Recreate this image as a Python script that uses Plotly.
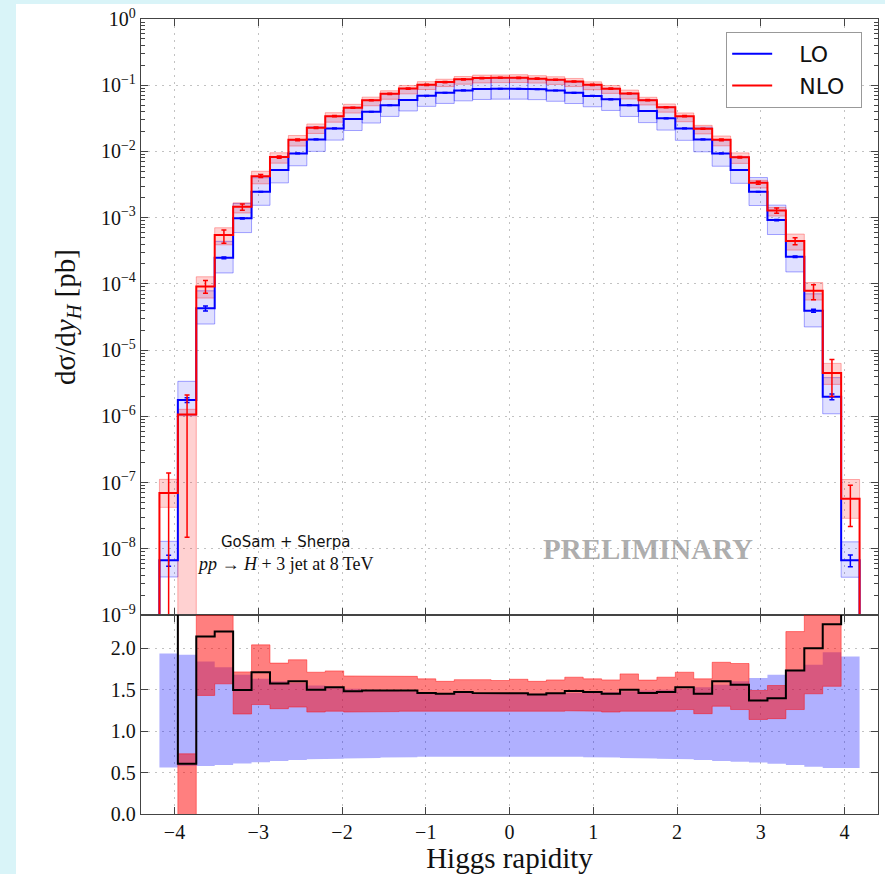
import numpy as np
import plotly.graph_objects as go

# ---------------- data ----------------
BIN_EDGES = [-4.18, -3.96, -3.74, -3.52, -3.30, -3.08, -2.86, -2.64, -2.42, -2.20,
             -1.98, -1.76, -1.54, -1.32, -1.10, -0.88, -0.66, -0.44, -0.22, 0.00,
             0.22, 0.44, 0.66, 0.88, 1.10, 1.32, 1.54, 1.76, 1.98, 2.20,
             2.42, 2.64, 2.86, 3.08, 3.30, 3.52, 3.74, 3.96, 4.18]

# LO central values [pb]
LO_XS = [6.7e-9, 1.76e-6, 4.27e-5, 2.48e-4, 9.76e-4, 2.46e-3, 5.24e-3, 9.35e-3, 1.52e-2, 2.23e-2,
         3.09e-2, 3.98e-2, 4.97e-2, 5.97e-2, 6.95e-2, 7.70e-2, 8.36e-2, 8.77e-2, 8.87e-2, 8.87e-2,
         8.72e-2, 8.30e-2, 7.67e-2, 6.90e-2, 6.12e-2, 5.00e-2, 4.07e-2, 3.16e-2, 2.23e-2, 1.52e-2,
         9.35e-3, 5.24e-3, 2.46e-3, 9.20e-4, 2.57e-4, 3.93e-5, 1.97e-6, 6.7e-9]

# NLO / LO (black line of the ratio panel)
NLO_OVER_LO = [10.4, 0.605, 2.14, 2.20, 1.496, 1.71, 1.573, 1.60, 1.50, 1.53,
               1.48, 1.49, 1.49, 1.49, 1.46, 1.45, 1.47, 1.46, 1.46, 1.456,
               1.44, 1.456, 1.484, 1.47, 1.45, 1.50, 1.46, 1.47, 1.53, 1.45,
               1.60, 1.56, 1.37, 1.395, 1.73, 2.00, 2.29, 8.5]

# LO scale band relative to LO central
LO_BAND_LO = [0.56, 0.58, 0.58, 0.59, 0.61, 0.625, 0.64, 0.65, 0.66, 0.665,
              0.67, 0.675, 0.68, 0.685, 0.69, 0.69, 0.695, 0.695, 0.695, 0.695,
              0.695, 0.69, 0.69, 0.685, 0.68, 0.675, 0.67, 0.665, 0.66, 0.65,
              0.64, 0.63, 0.62, 0.605, 0.59, 0.57, 0.555, 0.555]
LO_BAND_HI = [1.935, 1.92, 1.84, 1.77, 1.68, 1.63, 1.60, 1.58, 1.55, 1.53,
              1.51, 1.50, 1.49, 1.48, 1.47, 1.46, 1.46, 1.45, 1.45, 1.45,
              1.45, 1.45, 1.46, 1.46, 1.47, 1.48, 1.49, 1.50, 1.51, 1.53,
              1.56, 1.60, 1.64, 1.68, 1.74, 1.80, 1.95, 1.90]

# NLO scale band relative to LO central
NLO_BAND_LO = [6.3, -0.34, 1.43, 1.57, 1.206, 1.32, 1.27, 1.29, 1.23, 1.24,
               1.23, 1.23, 1.235, 1.24, 1.24, 1.24, 1.24, 1.235, 1.235, 1.24,
               1.235, 1.24, 1.245, 1.24, 1.23, 1.24, 1.235, 1.24, 1.26, 1.21,
               1.30, 1.26, 1.14, 1.15, 1.26, 1.45, 1.54, 4.3]
NLO_BAND_HI = [16.7, 0.726, 3.0, 2.84, 1.714, 2.04, 1.82, 1.86, 1.71, 1.726,
               1.665, 1.66, 1.66, 1.66, 1.63, 1.60, 1.62, 1.62, 1.61, 1.625,
               1.60, 1.617, 1.65, 1.63, 1.617, 1.69, 1.615, 1.65, 1.71, 1.63,
               1.83, 1.815, 1.49, 1.55, 2.20, 2.66, 3.2, 16.6]

# statistical errors (relative)
LO_ERR = [0.19, 0.08, 0.09, 0.03, 0.02, 0.01, 0.01, 0.01, 0.01, 0.01,
          0.01, 0.01, 0.01, 0.01, 0.01, 0.01, 0.01, 0.01, 0.01, 0.01,
          0.01, 0.01, 0.01, 0.01, 0.01, 0.01, 0.01, 0.01, 0.01, 0.01,
          0.01, 0.01, 0.01, 0.02, 0.03, 0.05, 0.10, 0.20]
NLO_ERR_UP = [1.0, 0.97, 0.23, 0.19, 0.10, 0.07, 0.04, 0.03, 0.025, 0.02,
              0.02, 0.02, 0.02, 0.02, 0.02, 0.02, 0.02, 0.02, 0.02, 0.02,
              0.02, 0.02, 0.02, 0.02, 0.02, 0.02, 0.02, 0.02, 0.02, 0.02,
              0.03, 0.03, 0.05, 0.09, 0.12, 0.23, 0.60, 0.60]
NLO_ERR_DN = [0.999, 0.986, 0.21, 0.25, 0.11, 0.035, 0.04, 0.03, 0.025, 0.02,
              0.02, 0.02, 0.02, 0.02, 0.02, 0.02, 0.02, 0.02, 0.02, 0.02,
              0.02, 0.02, 0.02, 0.02, 0.02, 0.02, 0.02, 0.02, 0.02, 0.02,
              0.03, 0.03, 0.05, 0.09, 0.12, 0.27, 0.56, 0.62]

SERIES_NAMES = ["LO", "NLO"]
Y_TICKS = [1e-9, 1e-8, 1e-7, 1e-6, 1e-5, 1e-4, 1e-3, 1e-2, 1e-1, 1e0]
Y_TICK_TEXT = ["10<sup>\u22129</sup>", "10<sup>\u22128</sup>", "10<sup>\u22127</sup>",
               "10<sup>\u22126</sup>", "10<sup>\u22125</sup>", "10<sup>\u22124</sup>",
               "10<sup>\u22123</sup>", "10<sup>\u22122</sup>", "10<sup>\u22121</sup>",
               "10<sup>0</sup>"]
X_TICKS = [-4, -3, -2, -1, 0, 1, 2, 3, 4]
X_TICK_TEXT = ["\u22124", "\u22123", "\u22122", "\u22121", "0", "1", "2", "3", "4"]
R_TICKS = [0.0, 0.5, 1.0, 1.5, 2.0]
R_TICK_TEXT = ["0.0", "0.5", "1.0", "1.5", "2.0"]

# ---------------- derived quantities ----------------
edges = np.array(BIN_EDGES)
centers = 0.5 * (edges[:-1] + edges[1:])
lo = np.array(LO_XS)
ratio = np.array(NLO_OVER_LO)
nlo = lo * ratio
FLOOR = 1e-12


def step_xy(vals, floor=None):
    xs = list(np.repeat(edges, 2)[1:-1])
    ys = list(np.repeat(np.asarray(vals, float), 2))
    if floor is not None:
        xs = [edges[0]] + xs + [edges[-1]]
        ys = [floor] + ys + [floor]
    return xs, ys


def boxes(lower, upper):
    xs, ys = [], []
    for i in range(len(lower)):
        a, b = edges[i], edges[i + 1]
        xs += [a, b, b, a, a, None]
        ys += [lower[i], lower[i], upper[i], upper[i], lower[i], None]
    return xs, ys


fig = go.Figure()

# ---- main panel bands
bx, by = boxes(lo * np.array(LO_BAND_LO), lo * np.array(LO_BAND_HI))
fig.add_trace(go.Scatter(x=bx, y=by, mode="lines", fill="toself",
                         fillcolor="rgba(0,0,255,0.12)",
                         line=dict(color="rgba(0,0,255,0.35)", width=1),
                         showlegend=False, hoverinfo="skip", xaxis="x", yaxis="y"))
nlo_lo = np.clip(lo * np.array(NLO_BAND_LO), FLOOR, None)
nlo_hi = lo * np.array(NLO_BAND_HI)
bx, by = boxes(nlo_lo, nlo_hi)
fig.add_trace(go.Scatter(x=bx, y=by, mode="lines", fill="toself",
                         fillcolor="rgba(255,0,0,0.18)",
                         line=dict(color="rgba(255,0,0,0.3)", width=1),
                         showlegend=False, hoverinfo="skip", xaxis="x", yaxis="y"))

# ---- main panel lines (legend text padded to mimic matplotlib spacing)
PAD = "\u2002\u2002"
sx, sy = step_xy(lo, FLOOR)
fig.add_trace(go.Scatter(x=sx, y=sy, mode="lines", name=PAD + SERIES_NAMES[0] + "\u2002",
                         line=dict(color="#0000ff", width=2),
                         xaxis="x", yaxis="y"))
sx, sy = step_xy(nlo, FLOOR)
fig.add_trace(go.Scatter(x=sx, y=sy, mode="lines", name=PAD + SERIES_NAMES[1] + "\u2002",
                         line=dict(color="#ff0000", width=2),
                         xaxis="x", yaxis="y"))

# ---- error bars
lo_err = np.array(LO_ERR)
fig.add_trace(go.Scatter(x=centers, y=lo, mode="markers",
                         marker=dict(size=1, color="#0000ff"),
                         error_y=dict(type="data", symmetric=False,
                                      array=lo * lo_err, arrayminus=lo * lo_err,
                                      color="#0000ff", thickness=1.5, width=2.5),
                         showlegend=False, hoverinfo="skip", xaxis="x", yaxis="y"))
fig.add_trace(go.Scatter(x=centers, y=nlo, mode="markers",
                         marker=dict(size=1, color="#ff0000"),
                         error_y=dict(type="data", symmetric=False,
                                      array=nlo * np.array(NLO_ERR_UP),
                                      arrayminus=nlo * np.array(NLO_ERR_DN),
                                      color="#ff0000", thickness=1.5, width=2.5),
                         showlegend=False, hoverinfo="skip", xaxis="x", yaxis="y"))

# ---- ratio panel
sx, sy = step_xy(LO_BAND_LO)
fig.add_trace(go.Scatter(x=sx, y=sy, mode="lines", line=dict(width=0, color="rgba(0,0,255,0)"),
                         showlegend=False, hoverinfo="skip", xaxis="x2", yaxis="y2"))
sx, sy = step_xy(LO_BAND_HI)
fig.add_trace(go.Scatter(x=sx, y=sy, mode="lines", line=dict(width=0, color="rgba(0,0,255,0)"),
                         fill="tonexty", fillcolor="rgba(0,0,255,0.31)",
                         showlegend=False, hoverinfo="skip", xaxis="x2", yaxis="y2"))
sx, sy = step_xy(NLO_BAND_LO)
fig.add_trace(go.Scatter(x=sx, y=sy, mode="lines", line=dict(width=0.8, color="rgba(255,0,0,0.55)"),
                         showlegend=False, hoverinfo="skip", xaxis="x2", yaxis="y2"))
sx, sy = step_xy(NLO_BAND_HI)
fig.add_trace(go.Scatter(x=sx, y=sy, mode="lines", line=dict(width=0.8, color="rgba(255,0,0,0.55)"),
                         fill="tonexty", fillcolor="rgba(255,0,0,0.5)",
                         showlegend=False, hoverinfo="skip", xaxis="x2", yaxis="y2"))
sx, sy = step_xy(ratio)
fig.add_trace(go.Scatter(x=sx, y=sy, mode="lines", line=dict(width=2, color="black"),
                         showlegend=False, hoverinfo="skip", xaxis="x2", yaxis="y2"))

# ---------------- layout ----------------
SERIF = "Liberation Serif"
AX = dict(showline=True, linecolor="#444", linewidth=1.3, ticks="inside",
          tickcolor="#444", tickwidth=1.2, mirror="ticks",
          showgrid=True, gridcolor="#c2c2c2", griddash="2px,5px", gridwidth=1,
          zeroline=False, tickfont=dict(family=SERIF, size=20, color="#111"))
SPLIT = 0.2503

fig.update_layout(
    width=885, height=874,
    margin=dict(l=141, r=7, t=19, b=60, autoexpand=False),
    paper_bgcolor="white", plot_bgcolor="white",
    xaxis=dict(AX, domain=[0, 1], anchor="y", range=[-4.4, 4.4],
               tickvals=X_TICKS, showticklabels=False, ticklen=7, matches="x2"),
    yaxis=dict(AX, domain=[SPLIT, 1], anchor="x", type="log", range=[-9, 0],
               tickvals=Y_TICKS, ticktext=Y_TICK_TEXT, ticklen=7,
               minor=dict(ticks="inside", ticklen=3.5, tickcolor="#444", showgrid=False,
                          tickvals=[m * 10.0 ** k for k in range(-9, 0) for m in range(2, 10)]),
               title=dict(text="d\u03c3/d<i>y</i><sub><i>H</i></sub> [pb]",
                          font=dict(family=SERIF, size=29, color="#111"), standoff=16)),
    xaxis2=dict(AX, domain=[0, 1], anchor="y2", range=[-4.4, 4.4],
                tickvals=X_TICKS, ticktext=X_TICK_TEXT, ticklen=7,
                title=dict(text="Higgs rapidity", font=dict(family=SERIF, size=29, color="#111"),
                           standoff=4)),
    yaxis2=dict(AX, domain=[0, SPLIT], anchor="x2", range=[0, 2.4],
                tickvals=R_TICKS, ticktext=R_TICK_TEXT, ticklen=7),
    legend=dict(x=0.794, y=0.9836, xanchor="left", yanchor="top", traceorder="normal",
                bgcolor="white", bordercolor="#999", borderwidth=1,
                font=dict(family="DejaVu Sans", size=22, color="#111"),
                itemwidth=40, tracegroupgap=0),
)

# white box behind the process label (above grid, below data)
fig.add_shape(type="rect", xref="x", yref="y", x0=-3.86, x1=-1.55, y0=-8.84, y1=-7.66,
              fillcolor="white", line=dict(width=0), layer="between")
fig.add_annotation(xref="x", yref="y", x=-2.67, y=-7.89, showarrow=False,
                   text="GoSam + Sherpa", font=dict(family="DejaVu Sans", size=15, color="#111"))
fig.add_annotation(xref="x", yref="y", x=-2.67, y=-8.23, showarrow=False,
                   text="<i>pp</i> \u2192 <i>H</i> + 3 jet at 8 TeV",
                   font=dict(family=SERIF, size=18, color="#111"))
fig.add_annotation(xref="x", yref="y", x=1.655, y=-8.0, showarrow=False,
                   text="<b>PRELIMINARY</b>",
                   font=dict(family=SERIF, size=29, color="rgba(120,120,120,0.6)"))

# screenshot frame strips
fig.add_shape(type="rect", xref="paper", yref="paper", x0=-0.1913, x1=-0.1696, y0=-0.0755, y1=1.024,
              fillcolor="#d9f4f8", line=dict(width=0), layer="below")
fig.add_shape(type="rect", xref="paper", yref="paper", x0=-0.1913, x1=1.0095, y0=1.0189, y1=1.024,
              fillcolor="#d9f4f8", line=dict(width=0), layer="below")

fig.write_html("out.html")
